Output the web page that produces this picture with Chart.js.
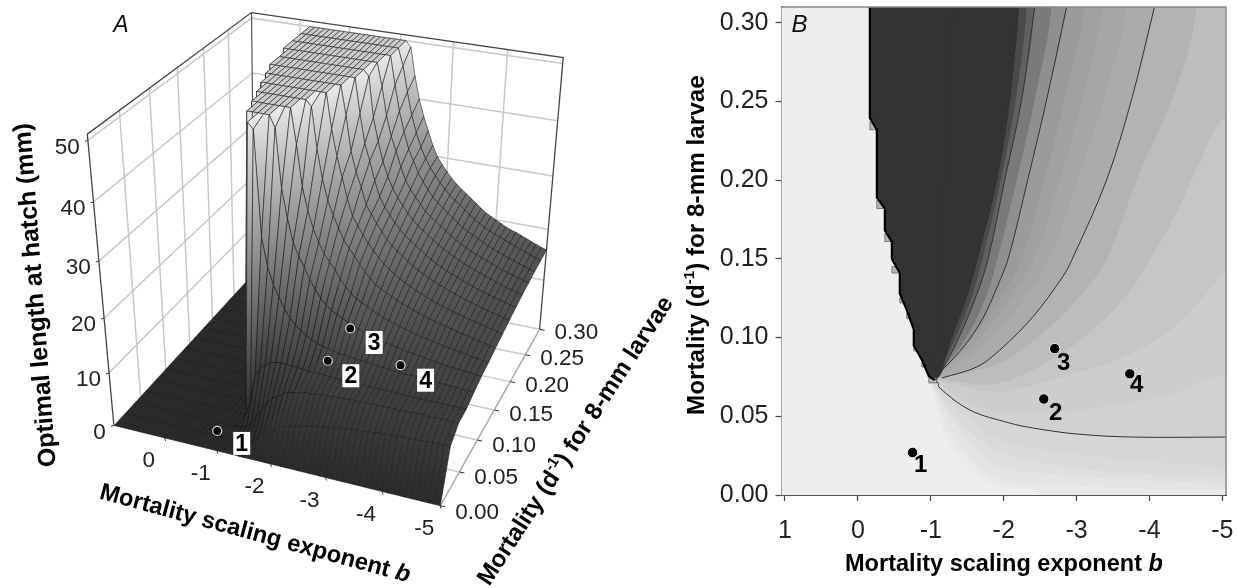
<!DOCTYPE html>
<html><head><meta charset="utf-8">
<style>html,body{margin:0;background:#fff}canvas{position:absolute;top:0}</style>
<script src="https://cdn.jsdelivr.net/npm/chart.js@4"></script></head>
<body>
<canvas id="ca" width="680" height="588" style="left:0"></canvas>
<canvas id="cb" width="558" height="588" style="left:680px"></canvas>
<script>
// ---------- data ----------
const exponentTicks = [1,0,-1,-2,-3,-4,-5];
const mortalityTicks = [0,0.05,0.10,0.15,0.20,0.25,0.30];
const lengthTicks = [0,10,20,30,40,50];
const siteExponent = [-0.75,-2.55,-2.70,-3.73];
const siteMortality = [0.027,0.061,0.093,0.077];
const siteLength = [0,13.6,16.5,13.7];
const siteNames = ['1','2','3','4'];

// Panel A grid: optimal length (mm) per exponent column (0 to -5 by 0.1) and mortality row
const gridExponent = [0,-.1,-.2,-.3,-.4,-.5,-.6,-.7,-.8,-.9,-1,-1.1,-1.2,-1.3,-1.4,-1.5,-1.6,-1.7,-1.8,-1.9,-2,-2.1,-2.2,-2.3,-2.4,-2.5,-2.6,-2.7,-2.8,-2.9,-3,-3.1,-3.2,-3.3,-3.4,-3.5,-3.6,-3.7,-3.8,-3.9,-4,-4.1,-4.2,-4.3,-4.4,-4.5,-4.6,-4.7,-4.8,-4.9,-5];
const gridMortality = [0,0.02,0.04,0.06,0.08,0.10,0.12,0.14,0.16,0.18,0.20,0.22,0.24,0.26,0.28,0.30];
const len000=[0,0,0,0,0,0,0,0,0,0,0,0,0,0,0,0,0,0,0,0,0,0,0,0,0,0,0,0,0,0,0,0,0,0,0,0,0,0,0,0,0,0,0,0,0,0,0,0,0,0,0];
const len002=[0,0,0,0,0,0,0,0,0,0,0,0,0,0,0,.7,1.5,2.2,3,3.8,4.5,4.9,5.3,5.6,5.8,6,6.2,6.4,6.5,6.7,6.9,7,7.2,7.3,7.4,7.5,7.6,7.7,7.8,7.9,8,8,8.1,8.1,8.2,8.2,8.3,8.3,8.4,8.4,8.5];
const len004=[0,0,0,0,0,0,0,0,0,0,0,0,.5,1.5,3,4.5,6,6.9,7.6,8.3,8.8,9,9.2,9.4,9.5,9.6,9.7,9.8,9.9,9.9,10,10,10.1,10.1,10.1,10.2,10.2,10.2,10.2,10.2,10.2,10.2,10.2,10.3,10.3,10.3,10.3,10.3,10.3,10.3,10.3];
const len006=[0,0,0,0,0,0,0,0,0,0,0,3,8,9.5,10.4,11,11.3,11.4,11.4,11.3,11.2,11.1,11,11,11,10.9,10.8,10.8,10.8,10.7,10.7,10.7,10.7,10.6,10.6,10.6,10.6,10.6,10.6,10.5,10.5,10.5,10.5,10.5,10.5,10.5,10.5,10.5,10.5,10.5,10.5];
const len008=[0,0,0,0,0,0,0,0,0,0,50,49,31,26,23,21,19,17.6,16.5,15.7,15,14.5,14,13.7,13.5,13.2,13,12.9,12.8,12.7,12.6,12.5,12.4,12.3,12.2,12.1,12,12,11.9,11.9,11.8,11.8,11.7,11.7,11.6,11.6,11.5,11.5,11.4,11.4,11.3];
const len010=[0,0,0,0,0,0,0,0,50,50,50,50,50,48,38,33,29,26.8,25,23,21.5,20.1,19,18.3,17.7,17.2,16.7,16.3,15.9,15.5,15.2,14.9,14.7,14.4,14.2,14,13.8,13.6,13.5,13.3,13.2,13,12.9,12.7,12.6,12.5,12.4,12.3,12.2,12.1,12];
const len012=[0,0,0,0,0,0,0,50,50,50,50,50,50,50,50,44,37,33,30,27.8,26,24.7,23.5,22,20.7,19.8,19,18.5,18,17.5,17,16.6,16.2,15.9,15.6,15.3,15,14.7,14.5,14.3,14.1,13.9,13.7,13.5,13.4,13.2,13,12.8,12.7,12.5,12.4];
const len014=[0,0,0,0,0,0,50,50,50,50,50,50,50,50,50,50,49,42,37,33.5,31,29,27,25.7,24.5,23.2,22,21,20,19.5,19,18.5,18,17.6,17.2,16.8,16.5,16.1,15.8,15.5,15.3,15,14.8,14.5,14.3,14.1,13.9,13.6,13.4,13.2,13];
const len016=[0,0,0,0,0,50,50,50,50,50,50,50,50,50,50,50,50,50,44,39.5,36,32.5,29.5,28,26.5,25.2,24,23,22,21.2,20.5,19.9,19.3,18.8,18.3,17.9,17.5,17.1,16.7,16.3,16,15.7,15.5,15.2,14.9,14.7,14.4,14.2,14,13.7,13.5];
const len018=[0,0,0,0,50,50,50,50,50,50,50,50,50,50,50,50,50,50,50,45,39,35.5,33,30,28.5,27,25.7,24.5,23.5,22.7,22,21.2,20.5,19.9,19.4,18.9,18.4,18,17.6,17.2,16.9,16.5,16.2,15.9,15.6,15.3,15,14.8,14.5,14.2,14];
const len020=[0,0,0,50,50,50,50,50,50,50,50,50,50,50,50,50,50,50,50,50,44,39,36,32.7,30,28.3,27,25.8,24.7,23.8,23,22.3,21.6,20.9,20.3,19.7,19.2,18.7,18.3,17.9,17.5,17.1,16.8,16.4,16.1,15.8,15.5,15.2,15,14.7,14.5];
const len022=[0,0,0,50,50,50,50,50,50,50,50,50,50,50,50,50,50,50,50,50,49,42,38,34.5,32,30,28.5,27.2,26,25,24,23.3,22.6,21.9,21.2,20.6,20,19.5,19,18.6,18.2,17.8,17.4,17,16.7,16.3,16,15.7,15.4,15.1,14.9];
const len024=[0,0,50,50,50,50,50,50,50,50,50,50,50,50,50,50,50,50,50,50,50,46,41,37.5,35,32.3,30,28.5,27.3,26.1,25,24.2,23.5,22.7,22,21.3,20.7,20.1,19.6,19.1,18.7,18.3,17.9,17.5,17.1,16.7,16.4,16.1,15.8,15.5,15.2];
const len026=[0,0,50,50,50,50,50,50,50,50,50,50,50,50,50,50,50,50,50,50,50,50,45,40.5,37,34,32,30,28.5,27.2,26,25.1,24.3,23.5,22.8,22,21.3,20.7,20.2,19.7,19.2,18.7,18.3,17.9,17.5,17.1,16.8,16.4,16.1,15.8,15.5];
const len028=[0,0,50,50,50,50,50,50,50,50,50,50,50,50,50,50,50,50,50,50,50,50,47,42.5,38.5,35.5,33,31,29.5,28.2,27,26,25,24.2,23.5,22.7,22,21.3,20.7,20.1,19.6,19.2,18.8,18.4,18,17.6,17.2,16.9,16.5,16.1,15.8];
const len030=[0,0,50,50,50,50,50,50,50,50,50,50,50,50,50,50,50,50,50,50,50,50,49,44,40,37,34.5,32,30,28.7,27.5,26.4,25.5,24.7,24,23.2,22.5,21.7,21,20.5,20,19.5,19,18.6,18.3,17.9,17.5,17.1,16.7,16.3,16];
const lengthRows=[len000,len002,len004,len006,len008,len010,len012,len014,len016,len018,len020,len022,len024,len026,len028,len030];

// Panel B: band edges, [exponent, mortality], from the apex outwards
const edgeF5=[[-1,.0699],[-1.192,.0381],[-1.534,.0159],[-1.945,.0051],[-2.493,0]];
const edgeF4=[[-1.014,.0699],[-1.26,.0413],[-1.603,.021],[-1.945,.0095],[-2.863,.0064],[-3.767,.0044],[-5.05,.0032]];
const edgeF3=[[-1.027,.0699],[-1.26,.0508],[-1.603,.0305],[-1.945,.0178],[-2.863,.0127],[-3.767,.0095],[-5.05,.0076]];
const edgeF2=[[-1.041,.0699],[-1.192,.0584],[-1.507,.0413],[-1.945,.0273],[-2.863,.0178],[-3.767,.014],[-5.05,.0114]];
const edgeF1=[[-1.068,.0699],[-1.192,.0635],[-1.534,.0476],[-1.945,.0349],[-2.863,.0267],[-3.767,.0222],[-5.05,.0178]];
const line10=[[-1.096,.0718],[-1.123,.068],[-1.534,.054],[-2.082,.0457],[-2.397,.0426],[-2.986,.0388],[-3.767,.0368],[-5.05,.0368]];
const edgeE4=[[-1.068,.0724],[-1.397,.0616],[-1.945,.0527],[-2.63,.0521],[-3.315,.0559],[-4.233,.0635],[-5.05,.0762]];
const edgeE3=[[-1.068,.073],[-1.945,.0654],[-2.63,.0731],[-3.548,.0858],[-4.233,.1029],[-4.685,.122],[-5.05,.141]];
const edgeE2=[[-1.068,.0737],[-1.945,.0712],[-2.863,.0921],[-3.411,.1131],[-3.767,.1321],[-4.0,.1493],[-4.37,.1792],[-4.685,.2109],[-5.05,.2402]];
const edgeE1=[[-1.068,.0743],[-1.945,.0839],[-2.63,.1067],[-3.082,.1283],[-3.411,.1493],[-3.863,.2046],[-4.233,.2427],[-4.507,.2783],[-4.644,.31]];
const line20=[[-1.151,.0743],[-1.63,.0813],[-1.945,.092],[-2.397,.113],[-2.808,.1385],[-2.932,.149],[-3.411,.2],[-3.753,.251],[-4.068,.31]];
const edgeG1=[[-1.123,.0762],[-1.74,.0953],[-2.219,.1207],[-2.63,.1506],[-3.014,.2],[-3.37,.251],[-3.685,.31]];
const edgeG2=[[-1.096,.0762],[-1.644,.0985],[-2.082,.1239],[-2.425,.1506],[-2.767,.2],[-3.082,.251],[-3.356,.31]];
const edgeG3=[[-1.082,.0762],[-1.603,.1017],[-1.986,.127],[-2.247,.1506],[-2.562,.2],[-2.836,.251],[-3.11,.31]];
const line30=[[-1.068,.0756],[-1.192,.081],[-1.466,.095],[-1.712,.112],[-1.918,.133],[-2.068,.151],[-2.329,.2],[-2.589,.251],[-2.863,.31]];
const edgeH1=[[-1.082,.0762],[-1.466,.0985],[-1.74,.1239],[-1.918,.1506],[-2.178,.2],[-2.425,.251],[-2.658,.31]];
const line40=[[-1.123,.0762],[-1.37,.0985],[-1.603,.124],[-1.781,.149],[-2.014,.2],[-2.247,.251],[-2.425,.31]];
const edgeH2=[[-1.096,.0762],[-1.329,.0985],[-1.548,.1239],[-1.712,.1506],[-1.959,.2],[-2.164,.251],[-2.315,.31]];
const line50=[[-1.055,.073],[-1.123,.076],[-1.274,.0985],[-1.479,.124],[-1.644,.151],[-1.904,.2],[-2.082,.251],[-2.205,.31]];
const cliff=[[-.164,.31],[-.164,.2395],[-.26,.232],[-.26,.189],[-.37,.182],[-.37,.168],[-.466,.161],[-.466,.15],[-.575,.141],[-.575,.128],[-.671,.1175],[-.767,.105],[-.767,.095],[-.877,.086],[-.973,.0755],[-1.055,.073]];
const stepBoxes=[[-.164,-.26,.237,.232],[-.26,-.37,.187,.182],[-.37,-.466,.166,.161],[-.466,-.575,.145,.141],[-.575,-.67,.125,.122],[-.67,-.767,.1156,.112],[-.767,-.877,.095,.0915],[-.877,-.973,.0845,.0813],[-.973,-1.08,.0743,.0712]];
const bandEdges=[edgeF5,edgeF4,edgeF3,edgeF2,edgeF1,line10,edgeE4,edgeE3,edgeE2,edgeE1,line20,edgeG1,edgeG2,edgeG3,line30,edgeH1,line40,edgeH2,line50];
const bandGreys=[233,228,223,218,214,209,205,198,189,179,171,166,161,155,143,122,96,74,51];
const contourLines=[line10,line20,line30,line40,line50];

// ---------- panel A projection ----------
const FONT='"Liberation Sans", Arial, sans-serif';
function quadMap(p0,p1,p2,p3){
  const dx1=p1[0]-p2[0],dx2=p3[0]-p2[0],sx=p0[0]-p1[0]+p2[0]-p3[0];
  const dy1=p1[1]-p2[1],dy2=p3[1]-p2[1],sy=p0[1]-p1[1]+p2[1]-p3[1];
  const det=dx1*dy2-dx2*dy1,g=(sx*dy2-dx2*sy)/det,h=(dx1*sy-sx*dy1)/det;
  const a=p1[0]-p0[0]+g*p1[0],b=p3[0]-p0[0]+h*p3[0],d=p1[1]-p0[1]+g*p1[1],e=p3[1]-p0[1]+h*p3[1];
  return (u,v)=>{const w=g*u+h*v+1;return [(a*u+b*v+p0[0])/w,(d*u+e*v+p0[1])/w];};
}
const floorMap=quadMap([110,428],[442,510],[543,330],[253,272]);
const roofMap=quadMap([83,131],[457,201],[567,53],[250,7]);
const Z_TOP=51;
function proj(b,m,z){
  const u=(1-b)/6,v=m/0.30,t=z/Z_TOP,f=t*(0.9+0.1*t);
  const p=floorMap(u,v),q=roofMap(u,v);
  return {x:p[0]+(q[0]-p[0])*f,y:p[1]+(q[1]-p[1])*f};
}
function greyFor(z){
  const k=[[0,42],[10,60],[15,78],[20,98],[30,140],[40,180],[50,232]];
  for(let i=1;i<k.length;i++) if(z<=k[i][0]){
    const v=Math.round(k[i-1][1]+(k[i][1]-k[i-1][1])*(z-k[i-1][0])/(k[i][0]-k[i-1][0]));
    return `rgb(${v},${v},${v})`;
  }
  return 'rgb(232,232,232)';
}
function poly(data,fillC,lineC,lw,extra){
  return Object.assign({type:'scatter',data,showLine:true,pointRadius:0,borderWidth:lw||0,borderColor:lineC||'transparent',
    backgroundColor:fillC||'transparent',fill:fillC?'shape':false},extra||{});
}
const ctxA=document.getElementById('ca').getContext('2d');
const aSets=[];
const gridCol='#c9c9c9';
// back walls
for(const m of mortalityTicks.slice(1,6)) aSets.push(poly([proj(1,m,0),proj(1,m,Z_TOP)],null,gridCol,1.5));
for(const b of exponentTicks.slice(1,6)) aSets.push(poly([proj(b,.3,0),proj(b,.3,Z_TOP)],null,gridCol,1.5));
for(const z of lengthTicks.slice(1)){
  aSets.push(poly([proj(1,0,z),proj(1,.3,z),proj(-5,.3,z)],null,gridCol,1.5));
}
// floor grid lines
for(const m of mortalityTicks.slice(1)) aSets.push(poly([proj(1,m,0),proj(-5,m,0)],null,gridCol,1.5));
aSets.push(poly([proj(-5,0,0),proj(-5,.3,0)],null,'#aaa',1.5));
// box frame
aSets.push(poly([proj(1,0,0),proj(1,0,Z_TOP),proj(1,.3,Z_TOP),proj(-5,.3,Z_TOP),proj(-5,.3,0)],null,'#444',1.3));
aSets.push(poly([proj(1,.3,Z_TOP),proj(1,.3,0)],null,'#555',1.2));
// dark floor on the low side of the exponent range
const FLOOR_END=-1.5;
aSets.push(poly([proj(1,0,0),proj(FLOOR_END,0,0),proj(FLOOR_END,.3,0),proj(1,.3,0)],'rgb(42,42,42)',null,0));
for(const m of gridMortality) aSets.push(poly([proj(1,m,0),proj(FLOOR_END,m,0)],null,'#1f1f1f',.6));
for(const b of gridExponent) if(b>=FLOOR_END) aSets.push(poly([proj(b,0,0),proj(b,.3,0)],null,'#1f1f1f',.6));
// surface: painted back to front
for(let i=gridMortality.length-2;i>=0;i--){
  for(let j=0;j<gridExponent.length-1;j++){
    const zs=[lengthRows[i][j],lengthRows[i][j+1],lengthRows[i+1][j+1],lengthRows[i+1][j]];
    const zMax=Math.max(...zs),zMin=Math.min(...zs);
    if(zMax===0) continue;
    const pts=[proj(gridExponent[j],gridMortality[i],zs[0]),proj(gridExponent[j+1],gridMortality[i],zs[1]),
               proj(gridExponent[j+1],gridMortality[i+1],zs[2]),proj(gridExponent[j],gridMortality[i+1],zs[3])];
    let fillC,lw=.7,lc='rgba(25,25,25,.8)';
    if(zMin>=50){fillC='#cbcbcb';lc='#333';}
    else if(zMax-zMin>1){
      const top=pts[zs.indexOf(zMax)],bot=pts[zs.indexOf(zMin)];
      if(Math.abs(top.y-bot.y)<1){fillC=greyFor((zMax+zMin)/2);}
      else{fillC=ctxA.createLinearGradient(0,top.y,0,bot.y);fillC.addColorStop(0,greyFor(zMax));fillC.addColorStop(1,greyFor(zMin));}
    } else fillC=greyFor(zMax);
    aSets.push(poly(pts.concat([pts[0]]),fillC,lc,lw));
  }
}
// sites
aSets.push({type:'scatter',data:siteExponent.map((b,i)=>proj(b,siteMortality[i],siteLength[i])),pointRadius:4.5,
  backgroundColor:'#000',borderColor:'#ddd',borderWidth:1.2,showLine:false});
aSets.forEach((d,i)=>{d.order=aSets.length-i;});

function richWidth(ctx,segs,size){
  let w=0;for(const s of segs){ctx.font=`${s.it?'italic ':''}bold ${size*(s.sup?.62:1)}px ${FONT}`;w+=ctx.measureText(s.t).width;}return w;
}
function drawRich(ctx,segs,cx,cy,deg,target){
  ctx.save();ctx.translate(cx,cy);ctx.rotate(deg*Math.PI/180);
  const size=24*target/richWidth(ctx,segs,24);
  let x=-target/2;ctx.textBaseline='middle';ctx.textAlign='left';ctx.fillStyle='#000';
  for(const s of segs){
    ctx.font=`${s.it?'italic ':''}bold ${size*(s.sup?.62:1)}px ${FONT}`;
    ctx.fillText(s.t,x,s.sup?-size*.3:0);x+=ctx.measureText(s.t).width;
  }
  ctx.restore();
}
const scaleTitle=[{t:'Mortality scaling exponent '},{t:'b',it:true}];
const mortTitle=[{t:'Mortality (d'},{t:'-1',sup:true},{t:') for 8-mm larvae'}];

const aText={id:'aText',afterDatasetsDraw(ch){
  const c=ch.ctx,sx=ch.scales.x,sy=ch.scales.y;
  const px=p=>[sx.getPixelForValue(p.x),sy.getPixelForValue(p.y)];
  c.save();c.fillStyle='#222';c.strokeStyle='#333';c.lineWidth=1;
  c.font=`22.5px ${FONT}`;c.textBaseline='middle';
  c.textAlign='right';
  for(const z of lengthTicks){const [x,y]=px(proj(1,0,z));
    c.beginPath();c.moveTo(x,y);c.lineTo(x-3,y+1);c.stroke();c.fillText(String(z),x-8,y+7);}
  c.textAlign='center';
  for(const b of exponentTicks.slice(1)){const [x,y]=px(proj(b,0,0));
    c.beginPath();c.moveTo(x,y);c.lineTo(x+1,y+3);c.stroke();c.fillText(String(b),x-16,y+23);}
  c.textAlign='left';
  for(const m of mortalityTicks){const [x,y]=px(proj(-5,m,0));
    c.beginPath();c.moveTo(x,y);c.lineTo(x+5,y+1);c.stroke();c.fillText(m.toFixed(2),x+15,y+7-4*m/.3);}
  const off=[[24.5,12.5],[23,15],[24,14],[25,15]];
  siteNames.forEach((n,i)=>{const [x,y]=px(proj(siteExponent[i],siteMortality[i],siteLength[i]));
    const lx=x+off[i][0],ly=y+off[i][1];
    c.fillStyle='#fff';c.fillRect(lx-8.5,ly-11.5,17,23);
    c.fillStyle='#000';c.font=`bold 23px ${FONT}`;c.textAlign='center';c.fillText(n,lx,ly+1);});
  c.font=`italic 23px ${FONT}`;c.textAlign='center';c.fillStyle='#111';c.fillText('A',121,26);
  c.restore();
  drawRich(c,[{t:'Optimal length at hatch (mm)'}],36,295,-94.3,345);
  drawRich(c,scaleTitle,255,534,15.2,321);
  drawRich(c,mortTitle,576,441,-57,339);
}};

new Chart(ctxA,{type:'scatter',data:{datasets:aSets},plugins:[aText],options:{
  responsive:false,animation:false,events:[],layout:{padding:0},
  plugins:{legend:{display:false},tooltip:{enabled:false}},
  scales:{x:{type:'linear',display:false,min:0,max:680},y:{type:'linear',display:false,min:0,max:588,reverse:true}}
}});

// ---------- panel B ----------
const xy=a=>a.map(p=>({x:p[0],y:p[1]}));
const smooth={tension:.35,capBezierPoints:false};
const bSets=[];
bandEdges.forEach((edge,i)=>{
  const end=edge[edge.length-1],pts=edge.slice();
  if(end[1]<=0) pts.push([end[0],-.05],[-5.7,-.05],[-5.7,.37]);
  else if(end[0]<=-5) pts.push([-5.7,end[1]],[-5.7,.37]);
  else pts.push([end[0],.37]);
  pts.push([-1.05,.37]);
  const g=bandGreys[i];
  bSets.push(poly(xy(pts),`rgb(${g},${g},${g})`,null,0,smooth));
});
for(const s of stepBoxes){
  const r=[[s[0],s[2]],[s[1],s[2]],[s[1],s[3]],[s[0],s[3]],[s[0],s[2]]];
  bSets.push(poly(xy(r),'#b5b5b5','#666',.8));
}
bSets.push(poly(xy(cliff.concat([[-1.3,.31]])),'#333333',null,0));
for(const l of contourLines) bSets.push(poly(xy(l),null,'#333',1,smooth));
bSets.push(poly(xy(cliff),null,'#000',2.2));
bSets.push({type:'scatter',data:siteExponent.map((b,i)=>({x:b,y:siteMortality[i]})),pointRadius:5.2,backgroundColor:'#000',
  borderColor:'#eee',borderWidth:1,showLine:false});
bSets.forEach((d,i)=>{d.order=bSets.length-i;});

const bText={id:'bText',
  beforeDatasetsDraw(ch){const a=ch.chartArea,c=ch.ctx;c.save();c.fillStyle='#eeeeee';c.fillRect(a.left,a.top,a.width,a.height);c.restore();},
  afterDatasetsDraw(ch){
    const c=ch.ctx,a=ch.chartArea,sx=ch.scales.x,sy=ch.scales.y;
    c.save();c.strokeStyle='#888';c.lineWidth=1.5;
    c.beginPath();c.moveTo(a.left,a.top);c.lineTo(a.right,a.top);c.lineTo(a.right,a.bottom);c.stroke();
    c.fillStyle='#000';c.font=`bold 24px ${FONT}`;c.textAlign='center';c.textBaseline='middle';
    const off=[[8,13],[12,14],[9,15],[7,12]];
    siteNames.forEach((n,i)=>c.fillText(n,sx.getPixelForValue(siteExponent[i])+off[i][0],sy.getPixelForValue(siteMortality[i])+off[i][1]));
    c.font=`italic 24px ${FONT}`;c.fillStyle='#111';c.fillText('B',a.left+18,a.top+18);
    c.restore();
    drawRich(c,scaleTitle,1004-680,565,0,318);
    drawRich(c,mortTitle,697-680,245,-90,340);
  }};

new Chart(document.getElementById('cb'),{type:'scatter',data:{datasets:bSets},plugins:[bText],options:{
  responsive:false,animation:false,events:[],layout:{padding:{top:7,right:12,left:0,bottom:0}},
  plugins:{legend:{display:false},tooltip:{enabled:false}},
  scales:{
    x:{type:'linear',reverse:true,min:-5.05,max:1.048,
      afterBuildTicks(s){s.ticks=exponentTicks.map(v=>({value:v}));},
      afterFit(s){s.height=93;s.paddingLeft=0;s.paddingRight=0;},
      grid:{drawOnChartArea:false,color:'#444',tickLength:6,tickWidth:1.2},
      border:{color:'#555',width:2},
      ticks:{autoSkip:false,maxRotation:0,padding:15,color:'#222',font:{family:FONT,size:25},callback:v=>String(v)}},
    y:{type:'linear',min:0,max:.31,
      afterBuildTicks(s){s.ticks=mortalityTicks.map(v=>({value:v}));},
      afterFit(s){s.width=101.5;s.paddingTop=0;s.paddingBottom=0;},
      grid:{drawOnChartArea:false,color:'#444',tickLength:6,tickWidth:1.2},
      border:{color:'#555',width:2},
      ticks:{autoSkip:false,padding:7,color:'#222',font:{family:FONT,size:25},callback:v=>v.toFixed(2)}}
  }
}});
</script>
</body></html>
